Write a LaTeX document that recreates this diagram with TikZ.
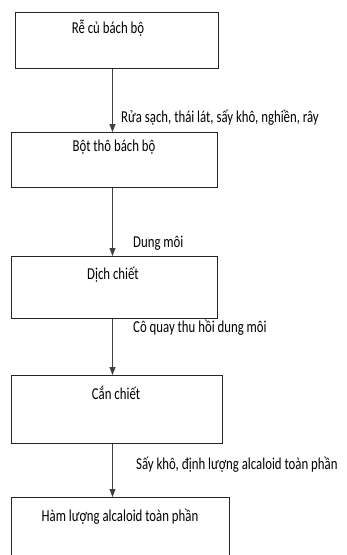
\documentclass[tikz,border=0pt]{standalone}
\usepackage{fontspec}
\setmainfont{Carlito}
\usetikzlibrary{arrows.meta}
\newcommand{\vs}[1]{\scalebox{1}[1.3]{#1}}
\begin{document}
\begin{tikzpicture}[x=1pt,y=-1pt,
  box/.style={draw=black!85,line width=0.8pt,rectangle,inner sep=0pt,anchor=north west},
  txt/.style={font=\fontsize{12.8}{14}\selectfont,inner sep=0pt,text=black},
  lbl/.style={txt,anchor=west},
  flow/.style={draw=black!75,line width=0.8pt,-{Triangle[width=6pt,length=8pt]}}]
\useasboundingbox (0,0) rectangle (346,555);
\begin{scope}
\clip (0,0) rectangle (346,555);
\node[box,minimum width=203pt,minimum height=56pt] (b1) at (15,12) {};
\node[box,minimum width=206pt,minimum height=55pt] (b2) at (11,132) {};
\node[box,minimum width=206pt,minimum height=62pt] (b3) at (11,256) {};
\node[box,minimum width=211pt,minimum height=68pt] (b4) at (11,375) {};
\node[box,minimum width=218pt,minimum height=80pt] (b5) at (11,497) {};
\end{scope}
\node[txt] (t1) at (108,28) {\vs{Rễ củ bách bộ}};
\node[txt] (t2) at (114,147) {\vs{Bột thô bách bộ}};
\node[txt] (t3) at (113,275) {\vs{Dịch chiết}};
\node[txt] (t4) at (116,393) {\vs{Cắn chiết}};
\node[txt] (t5) at (120,517) {\vs{Hàm lượng alcaloid toàn phần}};
\coordinate (ax) at (112.5,0);
\draw[flow] (b1.south -| ax) -- (b2.north -| ax);
\draw[flow] (b2.south -| ax) -- (b3.north -| ax);
\draw[flow] (b3.south -| ax) -- (b4.north -| ax);
\draw[flow] (b4.south -| ax) -- (b5.north -| ax);
\node[lbl] (l1) at (121,118) {\vs{Rửa sạch, thái lát, sấy khô, nghiền, rây}};
\node[lbl] (l2) at (133,243) {\vs{Dung môi}};
\node[lbl] (l3) at (133,328) {\vs{Cô quay thu hồi dung môi}};
\node[lbl] (l4) at (136,465) {\vs{Sấy khô, định lượng alcaloid toàn phần}};
\end{tikzpicture}
\end{document}
